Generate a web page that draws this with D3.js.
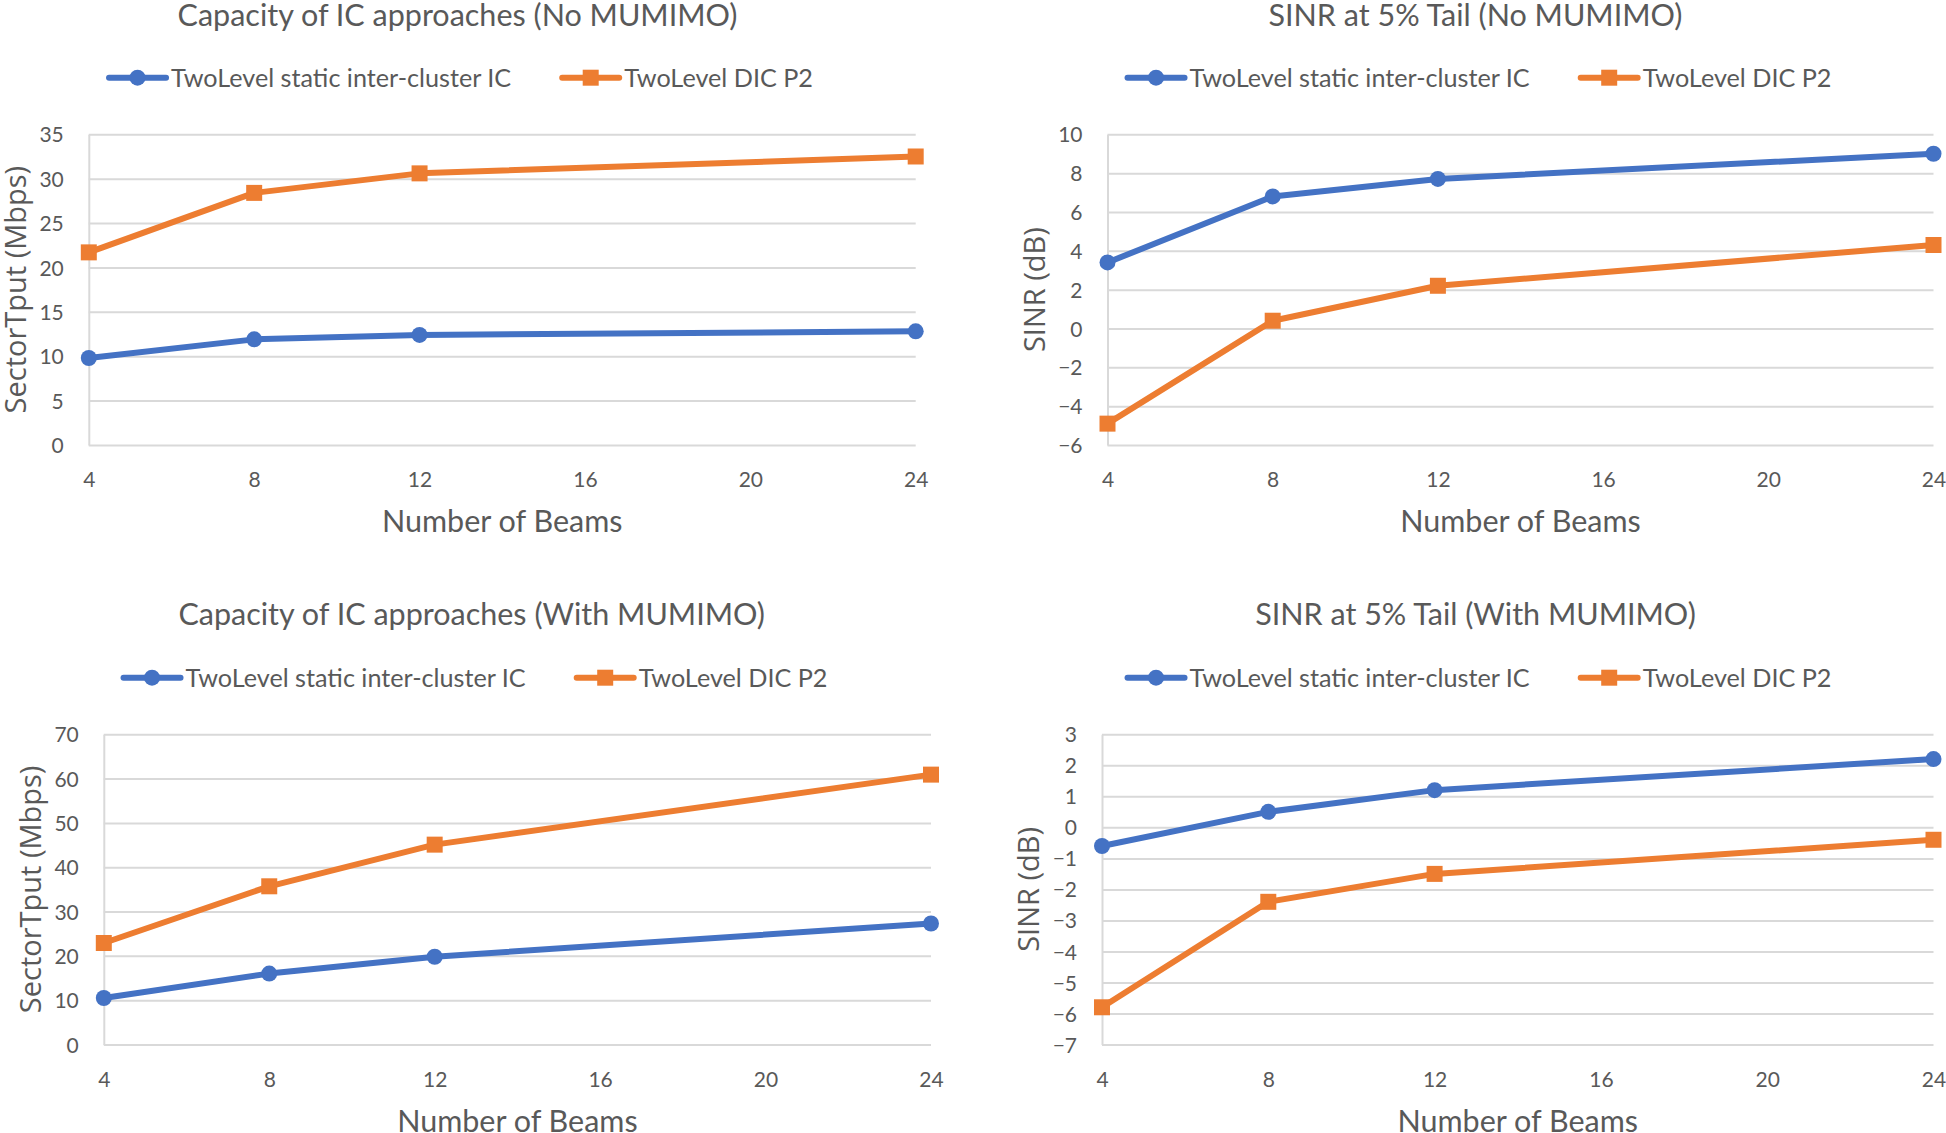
<!DOCTYPE html>
<html>
<head>
<meta charset="utf-8">
<script src="https://cdn.jsdelivr.net/npm/d3@7"></script>
<style>
  html, body { margin: 0; padding: 0; background: #ffffff; }
  svg { display: block; }
</style>
</head>
<body>
<svg id="chart" width="1946" height="1133"></svg>
<script>
// ---------------- data ----------------
const beams = [4, 8, 12, 24];
const xTickValues = [4, 8, 12, 16, 20, 24];
const seriesNames = ["TwoLevel static inter-cluster IC", "TwoLevel DIC P2"];

const capNoMuStatic = [9.8, 11.9, 12.4, 12.8];
const capNoMuDIC    = [21.7, 28.4, 30.6, 32.5];
const sinrNoMuStatic = [3.4, 6.8, 7.7, 9.0];
const sinrNoMuDIC    = [-4.9, 0.4, 2.2, 4.3];
const capMuStatic = [10.5, 16.0, 19.8, 27.3];
const capMuDIC    = [22.9, 35.7, 45.1, 60.9];
const sinrMuStatic = [-0.6, 0.5, 1.2, 2.2];
const sinrMuDIC    = [-5.8, -2.4, -1.5, -0.4];

const capNoMuTicks  = [0, 5, 10, 15, 20, 25, 30, 35];
const sinrNoMuTicks = [-6, -4, -2, 0, 2, 4, 6, 8, 10];
const capMuTicks    = [0, 10, 20, 30, 40, 50, 60, 70];
const sinrMuTicks   = [-7, -6, -5, -4, -3, -2, -1, 0, 1, 2, 3];

const titles = [
  "Capacity of IC approaches (No MUMIMO)",
  "SINR at 5% Tail (No MUMIMO)",
  "Capacity of IC approaches (With MUMIMO)",
  "SINR at 5% Tail (With MUMIMO)"
];
const yTitles = ["SectorTput (Mbps)", "SINR (dB)", "SectorTput (Mbps)", "SINR (dB)"];
const xTitle = "Number of Beams";

// ---------------- styling / layout ----------------
const colors = ["#4472C4", "#ED7D31"];
const textColor = "#595959";
const gridColor = "#d9d9d9";
const fontMain = "Lato, 'Liberation Sans', sans-serif";
const fontYTitle = "'Open Sans', 'DejaVu Sans', sans-serif";

const rows = [
  { titleBase: 25.5, legendY: 77.7, top: 134.3, bottom: 445 },
  { titleBase: 624.5, legendY: 677.7, top: 734.3, bottom: 1044.5 }
];
const panels = [
  { title: titles[0], yTitle: yTitles[0], ticks: capNoMuTicks, data: [capNoMuStatic, capNoMuDIC], row: rows[0], left: 88.8, right: 915.7, titleX: 457.5, legendX: 461 },
  { title: titles[1], yTitle: yTitles[1], ticks: sinrNoMuTicks, data: [sinrNoMuStatic, sinrNoMuDIC], row: rows[0], left: 1107.5, right: 1933.5, titleX: 1475.5, legendX: 1479.5 },
  { title: titles[2], yTitle: yTitles[2], ticks: capMuTicks, data: [capMuStatic, capMuDIC], row: rows[1], left: 103.8, right: 931, titleX: 471.7, legendX: 475.5 },
  { title: titles[3], yTitle: yTitles[3], ticks: sinrMuTicks, data: [sinrMuStatic, sinrMuDIC], row: rows[1], left: 1102, right: 1933.5, titleX: 1475.5, legendX: 1479.5 }
];

const svg = d3.select("#chart");
svg.append("rect").attr("width", 1946).attr("height", 1133).attr("fill", "#ffffff");

const symbols = [d3.symbolCircle, d3.symbolSquare];
const symbolSizes = [Math.PI * 8 * 8, 16 * 16];

panels.forEach(p => {
  const g = svg.append("g");
  const r = p.row;
  const x = d3.scaleLinear().domain([4, 24]).range([p.left, p.right]);
  const y = d3.scaleLinear().domain(d3.extent(p.ticks)).range([r.bottom, r.top]);

  // title
  g.append("text")
    .attr("x", p.titleX).attr("y", r.titleBase)
    .attr("text-anchor", "middle")
    .attr("font-family", fontMain).attr("font-size", 30.5)
    .attr("fill", textColor)
    .text(p.title);

  // y axis with gridlines
  const yAxis = d3.axisLeft(y)
    .tickValues(p.ticks)
    .tickSize(-(p.right - p.left))
    .tickSizeOuter(0)
    .tickPadding(25)
    .tickFormat(d3.format("d"));
  const yg = g.append("g").attr("transform", `translate(${p.left},0)`).call(yAxis);
  yg.select(".domain").attr("stroke", gridColor).attr("stroke-width", 2);
  yg.selectAll(".tick line").attr("stroke", gridColor).attr("stroke-width", 2);
  yg.selectAll(".tick text")
    .attr("font-family", fontMain).attr("font-size", 21)
    .attr("fill", textColor).attr("dy", "0.36em");

  // x axis (labels only)
  const xAxis = d3.axisBottom(x).tickValues(xTickValues).tickSize(0).tickFormat(d3.format("d"));
  const xg = g.append("g").attr("transform", `translate(0,${r.bottom})`).call(xAxis);
  xg.select(".domain").remove();
  xg.selectAll(".tick text")
    .attr("y", 42).attr("dy", 0)
    .attr("font-family", fontMain).attr("font-size", 21)
    .attr("fill", textColor);

  // axis titles
  g.append("text")
    .attr("x", (p.left + p.right) / 2).attr("y", r.bottom + 87)
    .attr("text-anchor", "middle")
    .attr("font-family", fontMain).attr("font-size", 30.5)
    .attr("fill", textColor)
    .text(xTitle);
  g.append("text")
    .attr("transform", `translate(${p.left - 63},${(r.top + r.bottom) / 2}) rotate(-90)`)
    .attr("text-anchor", "middle")
    .attr("font-family", fontYTitle).attr("font-size", 29)
    .attr("fill", textColor)
    .text(p.yTitle);

  // series
  const line = d3.line().x((d, i) => x(beams[i])).y(d => y(d));
  p.data.forEach((vals, si) => {
    g.append("path")
      .datum(vals)
      .attr("d", line)
      .attr("fill", "none")
      .attr("stroke", colors[si])
      .attr("stroke-width", 6)
      .attr("stroke-linejoin", "round")
      .attr("stroke-linecap", "round");
    g.selectAll(null).data(vals).enter().append("path")
      .attr("transform", (d, i) => `translate(${x(beams[i])},${y(d)})`)
      .attr("d", d3.symbol().type(symbols[si]).size(symbolSizes[si]))
      .attr("fill", colors[si]);
  });

  // legend
  const lg = g.append("g");
  const items = seriesNames.map((name, si) => {
    const ig = lg.append("g");
    ig.append("line").attr("x1", 0).attr("x2", 57).attr("y1", 0).attr("y2", 0)
      .attr("stroke", colors[si]).attr("stroke-width", 6).attr("stroke-linecap", "round");
    ig.append("path").attr("transform", "translate(28.5,0)")
      .attr("d", d3.symbol().type(symbols[si]).size(symbolSizes[si]))
      .attr("fill", colors[si]);
    const t = ig.append("text").attr("x", 62).attr("y", 9)
      .attr("font-family", fontMain).attr("font-size", 25.2)
      .attr("fill", textColor).text(name);
    return { g: ig, w: 62 + t.node().getComputedTextLength() };
  });
  const gap = 51;
  const total = items[0].w + gap + items[1].w;
  let cx = p.legendX - total / 2;
  items.forEach(it => {
    it.g.attr("transform", `translate(${cx},${r.legendY})`);
    cx += it.w + gap;
  });
});
</script>
</body>
</html>
